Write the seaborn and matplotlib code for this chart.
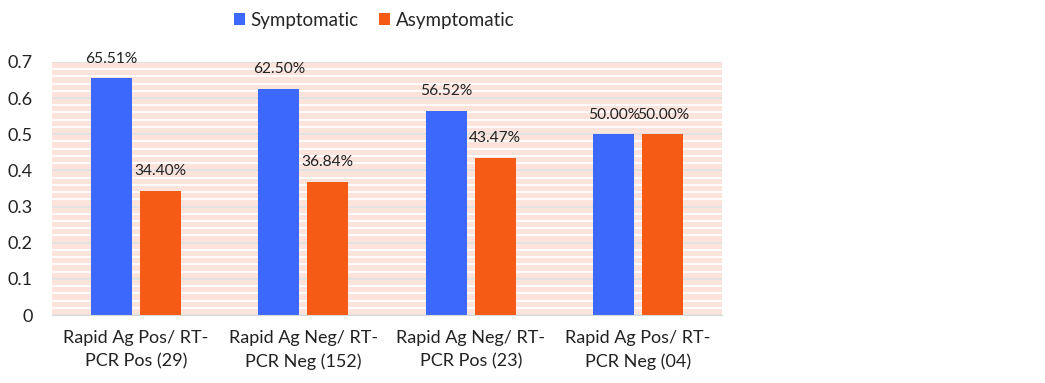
import seaborn as sns
import matplotlib.pyplot as plt
import pandas as pd
from matplotlib.ticker import MultipleLocator

categories = ["Rapid Ag Pos/ RT-\nPCR Pos (29)", "Rapid Ag Neg/ RT-\nPCR Neg (152)",
              "Rapid Ag Neg/ RT-\nPCR Pos (23)", "Rapid Ag Pos/ RT-\nPCR Neg (04)"]
symptomatic = [0.6551, 0.6250, 0.5652, 0.5000]
asymptomatic = [0.3440, 0.3684, 0.4347, 0.5000]
sym_labels = ["65.51%", "62.50%", "56.52%", "50.00%"]
asym_labels = ["34.40%", "36.84%", "43.47%", "50.00%"]

df = pd.DataFrame({
    "category": categories * 2,
    "value": symptomatic + asymptomatic,
    "group": ["Symptomatic"] * 4 + ["Asymptomatic"] * 4,
})

sns.set_style("white")
plt.rcParams['font.family'] = ['Lato', 'DejaVu Sans']

fig = plt.figure(figsize=(10.45, 3.83), dpi=100)
ax = fig.add_axes([0.0498, 0.1775, 0.641, 0.661])

sns.barplot(data=df, x="category", y="value", hue="group",
            palette={"Symptomatic": "#3D68FC", "Asymptomatic": "#F65B16"},
            width=0.585, gap=0.16, ax=ax, saturation=1, legend=True,
            linewidth=0, edgecolor="none")

ax.set_facecolor("#FCE3DB")
ax.set_ylim(0, 0.7)
ax.yaxis.set_major_locator(MultipleLocator(0.1))
ax.yaxis.set_minor_locator(MultipleLocator(0.02))
ax.grid(which="minor", axis="y", color="white", linewidth=1.3)
ax.grid(which="major", axis="y", color="#E2E2E2", linewidth=1.3)
ax.set_axisbelow(True)
ax.tick_params(axis="both", length=0, labelsize=13, colors="#222222")
ax.tick_params(axis="x", pad=11)
ax.tick_params(axis="y", pad=14)
ax.set_yticks([0, 0.1, 0.2, 0.3, 0.4, 0.5, 0.6, 0.7])
ax.set_yticklabels(["0", "0.1", "0.2", "0.3", "0.4", "0.5", "0.6", "0.7"])
for t in ax.get_xticklabels():
    t.set_linespacing(1.55)
ax.set_xlabel("")
ax.set_ylabel("")
for s in ["top", "right", "left"]:
    ax.spines[s].set_visible(False)
ax.spines["bottom"].set_color("#D9D9D9")

for cont, labs in zip(ax.containers, [sym_labels, asym_labels]):
    ax.bar_label(cont, labels=labs, padding=9, fontsize=11.2, color="#222222")

ax.legend(loc="lower left", bbox_to_anchor=(0.26, 1.10), ncol=2, frameon=False,
          fontsize=13.5, handlelength=0.6, handleheight=0.6, handletextpad=0.3,
          columnspacing=1.1, borderaxespad=0)

fig.savefig("out.png", dpi=100)
